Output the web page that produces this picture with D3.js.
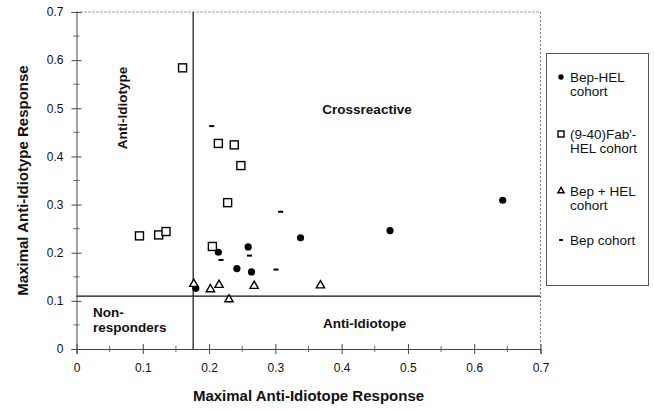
<!DOCTYPE html>
<html><head><meta charset="utf-8">
<script src="https://cdn.jsdelivr.net/npm/d3@7"></script>
<style>
body{margin:0;background:#fff}
svg{display:block}
text{font-family:"Liberation Sans",Arial,Helvetica,sans-serif;fill:#111}
</style>
</head><body>
<svg id="chart" width="654" height="409"></svg>
<script>
// ---- data ----
const xTickValues = [0, 0.1, 0.2, 0.3, 0.4, 0.5, 0.6, 0.7];
const yTickValues = [0, 0.1, 0.2, 0.3, 0.4, 0.5, 0.6, 0.7];
const minorTickValues = [0.05, 0.15, 0.25, 0.35, 0.45, 0.55, 0.65];
const xTickLabels = ["0", "0.1", "0.2", "0.3", "0.4", "0.5", "0.6", "0.7"];
const yTickLabels = ["0", "0.1", "0.2", "0.3", "0.4", "0.5", "0.6", "0.7"];

const bepHelX = [0.180, 0.214, 0.242, 0.259, 0.264, 0.338, 0.473, 0.643];
const bepHelY = [0.126, 0.201, 0.167, 0.212, 0.160, 0.231, 0.246, 0.309];

const fabHelX = [0.095, 0.124, 0.135, 0.160, 0.205, 0.214, 0.228, 0.238, 0.248];
const fabHelY = [0.235, 0.237, 0.244, 0.584, 0.213, 0.427, 0.304, 0.424, 0.381];

const bepPlusHelX = [0.177, 0.202, 0.215, 0.230, 0.268, 0.368];
const bepPlusHelY = [0.135, 0.124, 0.133, 0.103, 0.131, 0.132];

const bepX = [0.204, 0.218, 0.261, 0.301, 0.308];
const bepY = [0.463, 0.185, 0.194, 0.165, 0.285];

const cutoffX = 0.176;   // anti-idiotope threshold
const cutoffY = 0.11;    // anti-idiotype threshold

const seriesNames = [["Bep-HEL", "cohort"], ["(9-40)Fab'-", "HEL cohort"], ["Bep + HEL", "cohort"], ["Bep cohort"]];
const seriesMarkers = ["dot", "square", "triangle", "dash"];
const xTitle = "Maximal Anti-Idiotope Response";
const yTitle = "Maximal Anti-Idiotype Response";

// ---- drawing ----
const svg = d3.select("#chart");
const x = d3.scaleLinear().domain([0, 0.7]).range([76.5, 540.5]);
const y = d3.scaleLinear().domain([0, 0.7]).range([349, 12]);

// plot frame: dashed top/right
svg.append("line").attr("x1", x(0)).attr("x2", x(0.7)).attr("y1", y(0.7)).attr("y2", y(0.7))
  .attr("stroke", "#777").attr("stroke-dasharray", "2,2").attr("stroke-width", 1);
svg.append("line").attr("x1", x(0.7)).attr("x2", x(0.7)).attr("y1", y(0.7)).attr("y2", y(0))
  .attr("stroke", "#777").attr("stroke-dasharray", "2,2").attr("stroke-width", 1);

// axes
const yAxis = d3.axisLeft(y).tickValues(yTickValues)
  .tickFormat((d, i) => yTickLabels[i]).tickSize(5).tickPadding(8);
const gy = svg.append("g").attr("transform", `translate(${x(0)},0)`).call(yAxis);
gy.select(".domain").attr("stroke", "#444");
gy.selectAll(".tick line").attr("x1", -5).attr("x2", 5).attr("stroke", "#444");
gy.selectAll("text").attr("font-size", 12).attr("fill", "#111")
  .attr("font-family", "Liberation Sans, Arial, sans-serif");
gy.selectAll(".minor").data(minorTickValues).enter().append("line")
  .attr("x1", -3).attr("x2", 3).attr("y1", d => y(d)).attr("y2", d => y(d)).attr("stroke", "#666");

const xAxis = d3.axisBottom(x).tickValues(xTickValues)
  .tickFormat((d, i) => xTickLabels[i]).tickSize(5).tickPadding(9);
const gx = svg.append("g").attr("transform", `translate(0,${y(0)})`).call(xAxis);
gx.select(".domain").attr("stroke", "#444");
gx.selectAll(".tick line").attr("y1", -5).attr("y2", 5).attr("stroke", "#444");
gx.selectAll("text").attr("font-size", 12).attr("fill", "#111")
  .attr("font-family", "Liberation Sans, Arial, sans-serif");
gx.selectAll(".minor").data(minorTickValues).enter().append("line")
  .attr("y1", -3).attr("y2", 3).attr("x1", d => x(d)).attr("x2", d => x(d)).attr("stroke", "#666");

// quadrant lines
svg.append("line").attr("x1", x(cutoffX)).attr("x2", x(cutoffX)).attr("y1", y(0.7)).attr("y2", y(0))
  .attr("stroke", "#111").attr("stroke-width", 1.2);
svg.append("line").attr("x1", x(0)).attr("x2", x(0.7)).attr("y1", y(cutoffY)).attr("y2", y(cutoffY))
  .attr("stroke", "#111").attr("stroke-width", 1.2);

// quadrant labels
const qFont = 13.5;
svg.append("text").attr("transform", "translate(122,108) rotate(-90)")
  .attr("text-anchor", "middle").attr("dominant-baseline", "central")
  .attr("font-size", qFont).attr("font-weight", "bold").text("Anti-Idiotype");
svg.append("text").attr("x", 367).attr("y", 109).attr("text-anchor", "middle").attr("dominant-baseline", "central")
  .attr("font-size", qFont).attr("font-weight", "bold").text("Crossreactive");
svg.append("text").attr("x", 93).attr("y", 312).attr("dominant-baseline", "central")
  .attr("font-size", qFont).attr("font-weight", "bold").text("Non-");
svg.append("text").attr("x", 93).attr("y", 327).attr("dominant-baseline", "central")
  .attr("font-size", qFont).attr("font-weight", "bold").text("responders");
svg.append("text").attr("x", 323).attr("y", 323).attr("dominant-baseline", "central")
  .attr("font-size", qFont).attr("font-weight", "bold").text("Anti-Idiotope");

// axis titles
svg.append("text").attr("x", (x(0) + x(0.7)) / 2).attr("y", 395).attr("text-anchor", "middle")
  .attr("dominant-baseline", "central").attr("font-size", 15).attr("font-weight", "bold").text(xTitle);
svg.append("text").attr("transform", `translate(22,${(y(0) + y(0.7)) / 2}) rotate(-90)`)
  .attr("text-anchor", "middle").attr("dominant-baseline", "central")
  .attr("font-size", 15).attr("font-weight", "bold").text(yTitle);

// marker drawing
function drawMarker(g, type, cx, cy, scale) {
  const s = scale || 1;
  if (type === "dot") {
    g.append("circle").attr("cx", cx).attr("cy", cy).attr("r", 3.6 * s).attr("fill", "#000");
  } else if (type === "square") {
    const w = 8 * s;
    g.append("rect").attr("x", cx - w / 2).attr("y", cy - w / 2).attr("width", w).attr("height", w)
      .attr("fill", "#fff").attr("stroke", "#000").attr("stroke-width", 1.4);
  } else if (type === "triangle") {
    g.append("path").attr("d", d3.symbol(d3.symbolTriangle, 30 * s * s)())
      .attr("transform", `translate(${cx},${cy})`)
      .attr("fill", "#fff").attr("stroke", "#000").attr("stroke-width", 1.4);
  } else {
    const w = 5 * s;
    g.append("rect").attr("x", cx - w / 2).attr("y", cy - 1).attr("width", w).attr("height", 2).attr("fill", "#000");
  }
}

const allSeries = [
  [bepHelX, bepHelY], [fabHelX, fabHelY], [bepPlusHelX, bepPlusHelY], [bepX, bepY]
];
const pts = svg.append("g");
allSeries.forEach(([xs, ys], si) => {
  xs.forEach((v, i) => drawMarker(pts, seriesMarkers[si], x(v), y(ys[i]), 1));
});

// legend
const legend = svg.append("g");
legend.append("rect").attr("x", 546.5).attr("y", 53.5).attr("width", 102).attr("height", 232)
  .attr("fill", "#fff").attr("stroke", "#555").attr("stroke-width", 1);
const legendY = [77, 134, 191, 240];
seriesNames.forEach((lines, i) => {
  drawMarker(legend, seriesMarkers[i], 561, legendY[i], 0.75);
  lines.forEach((t, j) => {
    legend.append("text").attr("x", 570).attr("y", legendY[i] + j * 14.5)
      .attr("dominant-baseline", "central").attr("font-size", 13.5).text(t);
  });
});
</script>
</body></html>
